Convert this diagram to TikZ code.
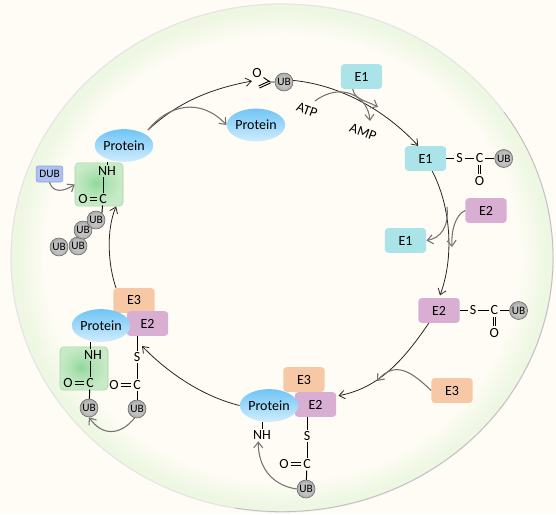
\documentclass[tikz,border=0pt]{standalone}
\usepackage{fontspec}
\setmainfont{Carlito}
\usepackage{tikz}
\usetikzlibrary{positioning,arrows.meta,shapes.geometric}
\definecolor{creamc}{HTML}{FEFCF4}
\definecolor{rimc}{HTML}{EDF7E2}
\definecolor{greenin}{HTML}{8ED89C}
\definecolor{greenout}{HTML}{C8EAC6}
\pgfdeclareradialshading{rimshade}{\pgfpoint{0bp}{0bp}}{color(0bp)=(creamc); color(22bp)=(creamc); color(24.5bp)=(rimc); color(50bp)=(rimc)}
\pgfdeclareradialshading{greenshade}{\pgfpoint{-3bp}{2bp}}{color(0bp)=(greenin); color(12bp)=(greenout!60!greenin); color(25bp)=(greenout); color(50bp)=(greenout)}
\pgfdeclareradialshading{ubshade}{\pgfpoint{0bp}{0bp}}{color(0bp)=(gray!45); color(17bp)=(gray!50); color(25bp)=(gray!70); color(50bp)=(gray!70)}
\newcommand{\dblbond}[4]{\draw[bond, transform canvas={xshift=#3, yshift=#4}] (#1) -- (#2); \draw[bond, transform canvas={xshift=-#3, yshift=-#4}] (#1) -- (#2);}

\begin{document}
\begin{tikzpicture}[x=0.75pt, y=-0.75pt,
  enz/.style={rounded corners=2.5pt, minimum width=31pt, minimum height=18.5pt, inner sep=0pt, font=\fontsize{10.5}{12}\selectfont},
  e1/.style={enz, fill={rgb,255:red,170;green,228;blue,232}},
  e2/.style={enz, fill={rgb,255:red,216;green,174;blue,210}},
  e3/.style={enz, fill={rgb,255:red,247;green,200;blue,166}},
  prot/.style={ellipse, minimum width=43.5pt, minimum height=24.5pt, inner sep=0pt, top color={rgb,255:red,112;green,197;blue,246}, bottom color={rgb,255:red,208;green,236;blue,253}, font=\fontsize{10.5}{12}\selectfont},
  ub/.style={circle, draw=gray!80!black, shading=ubshade, minimum size=13.5pt, inner sep=0pt, font=\fontsize{8.5}{9}\selectfont},
  atom/.style={inner sep=1.2pt, font=\fontsize{10.5}{11}\selectfont},
  gbox/.style={draw={rgb,255:red,165;green,214;blue,160}, rounded corners=3pt, shading=greenshade, minimum width=36pt, minimum height=32.5pt, inner sep=0pt},
  bond/.style={line width=0.7pt},
  arr/.style={black!85, line width=0.6pt, -{Straight Barb[length=1.5mm,width=2.2mm]}},
  garr/.style={black!55, line width=0.8pt, -{Straight Barb[length=1.5mm,width=2.4mm]}}]
\useasboundingbox (0,0) rectangle (556,514);
\fill[creamc] (0,0) rectangle (556,514);
\node[ellipse, draw=gray!20, line width=0.9pt, shading=rimshade, minimum width=406.5pt, minimum height=381pt, inner sep=0pt] (cell) at (282,258) {};
\draw[gray!50, line width=0.6pt] (504,112) arc[start angle=35, end angle=-100, x radius=203.25pt, y radius=190.5pt];

\node[e1] (e1a) at (361.5,76.5) {E1};
\node[e1] (e1b) at (425.5,158.5) {E1};
\node[e1] (e1c) at (405.5,240.5) {E1};
\node[e2] (e2a) at (486,210.5) {E2};
\node[e2] (e2b) at (439,310.5) {E2};
\node[e3] (e3a) at (452,390.5) {E3};
\node[e3] (e3b) at (304,379.5) {E3};
\node[e2] (e2c) at (315.5,404.5) {E2};
\node[e3] (e3c) at (134,300.5) {E3};
\node[e2] (e2d) at (147.5,323.5) {E2};
\node[prot] (pa) at (124,145.5) {Protein};
\node[prot] (pb) at (256,125) {Protein};
\node[prot] (pc) at (269,405.5) {Protein};
\node[prot] (pd) at (101,325.5) {Protein};

\node[gbox] (ga) at (99,184.5) {};
\node[gbox] (gb) at (84,368.5) {};
\node[rounded corners=1.5pt, draw={rgb,255:red,140;green,160;blue,225}, fill={rgb,255:red,174;green,192;blue,240}, minimum width=20pt, minimum height=12pt, inner sep=0pt, font=\fontsize{8.5}{10}\selectfont] (dub) at (49.5,174) {DUB};

\node[atom] (ntop) at (107,171) {NH};
\node[atom] (ctop) at (103,199) {C};
\node[atom] (otop) at (83,199) {O};
\node[ub] (u4) at (59,247) {UB};
\node[ub] (u3) at (78,246) {UB};
\node[ub] (u2) at (83,230) {UB};
\node[ub] (u1) at (96,220) {UB};
\draw[bond] (pa.south -| ntop) -- (ntop);
\draw[bond] (ntop.south -| ctop) -- (ctop);
\dblbond{otop}{ctop}{0pt}{0.8pt}
\draw[bond] (ctop) -- (u1.50);

\coordinate (ctip) at (270,82);
\coordinate (otwo) at (259,87);
\node[atom] (otip) at (257,73) {O};
\node[ub] (utip) at (284,82) {UB};
\draw[bond] (otip) -- (ctip) -- (utip);
\dblbond{ctip}{otwo}{0.35pt}{-0.75pt}

\node[atom, right=6pt of e1b] (s1) {S};
\node[atom, right=7pt of s1] (c1) {C};
\node[ub, right=7pt of c1] (u5) {UB};
\node[atom, below=7pt of c1] (o1) {O};
\draw[bond] (e1b) -- (s1);
\draw[bond] (s1) -- (c1);
\draw[bond] (c1) -- (u5);
\dblbond{c1}{o1}{0.9pt}{0pt}

\node[atom, right=6pt of e2b] (s2) {S};
\node[atom, right=8pt of s2] (c2) {C};
\node[ub, right=7pt of c2] (u6) {UB};
\node[atom, below=7pt of c2] (o2) {O};
\draw[bond] (e2b) -- (s2);
\draw[bond] (s2) -- (c2);
\draw[bond] (c2) -- (u6);
\dblbond{c2}{o2}{0.9pt}{0pt}

\node[atom] (nb) at (262,435) {NH};
\node[atom] (sb) at (307,436) {S};
\node[atom] (cb) at (307,464) {C};
\node[atom] (ob) at (284,464) {O};
\node[ub] (ub7) at (306,489) {UB};
\draw[bond] (pc.south -| nb) -- (nb);
\draw[bond] (e2c.south -| sb) -- (sb);
\draw[bond] (sb) -- (cb);
\dblbond{ob}{cb}{0pt}{0.8pt}
\draw[bond] (cb) -- (ub7);

\node[atom] (nl) at (93,355) {NH};
\node[atom] (cl) at (90,383) {C};
\node[atom] (ol) at (68,383) {O};
\node[ub] (ub8) at (89,408) {UB};
\node[atom] (sr) at (137,357) {S};
\node[atom] (cr) at (137,385) {C};
\node[atom] (or) at (114,385) {O};
\node[ub] (ub9) at (137,409) {UB};
\draw[bond] (pd.south -| cl) -- (nl.north -| cl);
\draw[bond] (nl.south -| cl) -- (cl);
\dblbond{ol}{cl}{0pt}{0.8pt}
\draw[bond] (cl) -- (ub8);
\draw[bond] (e2d.south -| sr) -- (sr);
\draw[bond] (sr) -- (cr);
\dblbond{or}{cr}{0pt}{0.8pt}
\draw[bond] (cr) -- (ub9);

\node[rotate=-20, font=\fontsize{10.5}{11}\selectfont] (atp) at (307,110) {ATP};
\node[rotate=-20, font=\fontsize{10.5}{11}\selectfont] (amp) at (363,132) {AMP};

\coordinate (pstart) at (148,130);
\coordinate (ptip) at (252,81);
\coordinate (tipd) at (142,346);
\coordinate (bend1) at (447,207);
\coordinate (bond1) at (378,107);
\coordinate (bond2) at (452,247);
\coordinate (bond3) at (377,381);
\coordinate (atpout) at (315,101);
\coordinate (ampin) at (370,121);

\draw[arr] (pstart) .. controls (180,100) and (215,88) .. (ptip);
\draw[arr] (utip.10) .. controls (340,85) and (385,110) .. (e1b.120);
\draw[arr, shorten >=2pt] (e1b.-62) .. controls (450,205) and (455,255) .. (e2b.north);
\draw[arr, shorten >=1.5pt] (e2b.-129) .. controls (405,358) and (380,388) .. (e2c.22);
\draw[arr] (pc.west) .. controls (205,397) and (170,375) .. (tipd);
\draw[arr] (e3c.145) .. controls (108,265) and (106,230) .. (ga.-52);

\draw[garr] (pstart) .. controls (168,105) and (200,97) .. (pb.west);
\draw[garr] (e1a.-125) .. controls (355,100) and (365,100) .. (bond1);
\draw[garr] (atpout) .. controls (340,82) and (368,95) .. (ampin);
\draw[garr] (bend1) .. controls (449,228) and (440,238) .. (e1c.east);
\draw[garr] (e2a.west) .. controls (455,215) and (451,232) .. (bond2);
\draw[garr] (e3a.west) .. controls (412,372) and (395,360) .. (bond3);
\draw[garr] (ub7.west) .. controls (270,485) and (258,465) .. (nb.-120);
\draw[garr] (ub9.-105) .. controls (120,436) and (102,436) .. (ub8.south);
\draw[garr] (dub.south) .. controls (53,193) and (63,192) .. (ga.west);
\end{tikzpicture}
\end{document}
